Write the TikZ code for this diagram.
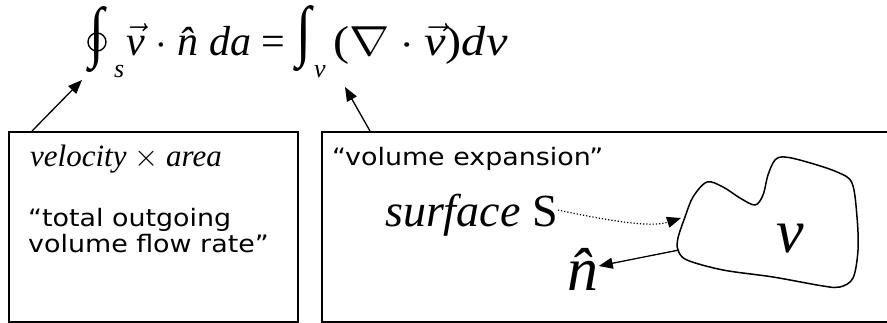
\RequirePackage{fix-cm}
\documentclass[tikz,border=0pt]{standalone}
\usepackage{fontspec}
\setmainfont{Liberation Serif}
\newfontfamily\verd[FakeStretch=1.12]{DejaVu Sans}
\usetikzlibrary{arrows.meta}
\newcommand\vvec{$\vec{\mbox{\itshape v}}$}
\newcommand\bigint{\scalebox{1.3}[1.6]{∫}}
\begin{document}
\begin{tikzpicture}[x=1pt,y=-1pt,
  box/.style={draw, line width=1.7pt, anchor=north west, inner sep=0pt},
  arr/.style={line width=1.3pt, -{Triangle[length=14pt,width=11pt]}},
  sans/.style={font=\verd\fontsize{24}{26}\selectfont, anchor=base west, inner sep=0pt, align=left},
  lbl/.style={anchor=base west, inner sep=0pt},
  eqf/.style={font=\fontsize{42}{48}\selectfont, inner sep=0pt},
  subf/.style={font=\fontsize{26}{30}\selectfont\itshape, anchor=base west, inner sep=0pt}
]
\clip (0,0) rectangle (887,322);
\node[box, minimum width=289pt, minimum height=190pt] (lbox) at (8,131) {};
\node[box, minimum width=600pt, minimum height=190pt] (rbox) at (321,131) {};

\node[eqf, anchor=center] (oi) at (97,40) {\bigint};
\draw[line width=1.4pt] (97,42) circle (9);
\node[subf] (ss) at (114,77) {s};
\node[eqf, anchor=base west] (lhs) at (126,55) {\vvec\ $\cdot$ \^{\itshape n} \itshape da \upshape =};
\node[eqf, anchor=center] (i2) at (304,39) {\bigint};
\node[subf] (sv) at (314,77) {v};
\node[eqf, anchor=base west] (rhs) at (333,55) {\scalebox{1.15}[1]{($\nabla{}\cdot{}$\vvec)\itshape dv}};

\coordinate (la) at ([xshift=24pt]lbox.north west);
\coordinate (lt) at (82,80);
\draw[arr] (la) -- (lt);
\coordinate (ra) at ([xshift=49pt]rbox.north west);
\coordinate (rt) at (345,87);
\draw[arr] (ra) -- (rt);

\node[lbl] (vel) at (30,166) {\fontsize{31}{36}\selectfont\itshape velocity\/ \upshape$\times$ \itshape area};
\node[sans] (tot) at (28,252) {“total outgoing\\volume flow rate”};
\node[sans] (vexp) at (332,165) {“volume expansion”};

\node[lbl] (surf) at (385,226) {\fontsize{46}{50}\selectfont\itshape surface \upshape S};
\node[anchor=base, inner sep=0pt] (nhat) at (583,290) {\fontsize{62}{70}\selectfont\itshape\^n};
\node[anchor=base, inner sep=0pt] (vol) at (790,252) {\fontsize{62}{70}\selectfont\itshape v};

\draw[line width=1.5pt] plot[smooth cycle, tension=0.55] coordinates {
 (678,238) (685,217) (693,197) (707,182) (723,187) (740,198) (755,205)
 (763,195) (768,175) (775,160) (785,157) (807,162) (837,172) (852,183)
 (857,217) (858,250) (853,278) (840,287) (823,286) (773,277) (723,270)
 (687,260) (678,250)};
\coordinate (bn) at (679,250);
\coordinate (bs) at (681,218);
\draw[arr] (bn) -- (nhat.east |- 0,266);
\draw[line width=1.2pt, dotted, -{Triangle[length=14pt,width=11pt]}]
  (surf.east |- 0,210) .. controls (605,220) and (650,228) .. (bs);
\end{tikzpicture}
\end{document}
